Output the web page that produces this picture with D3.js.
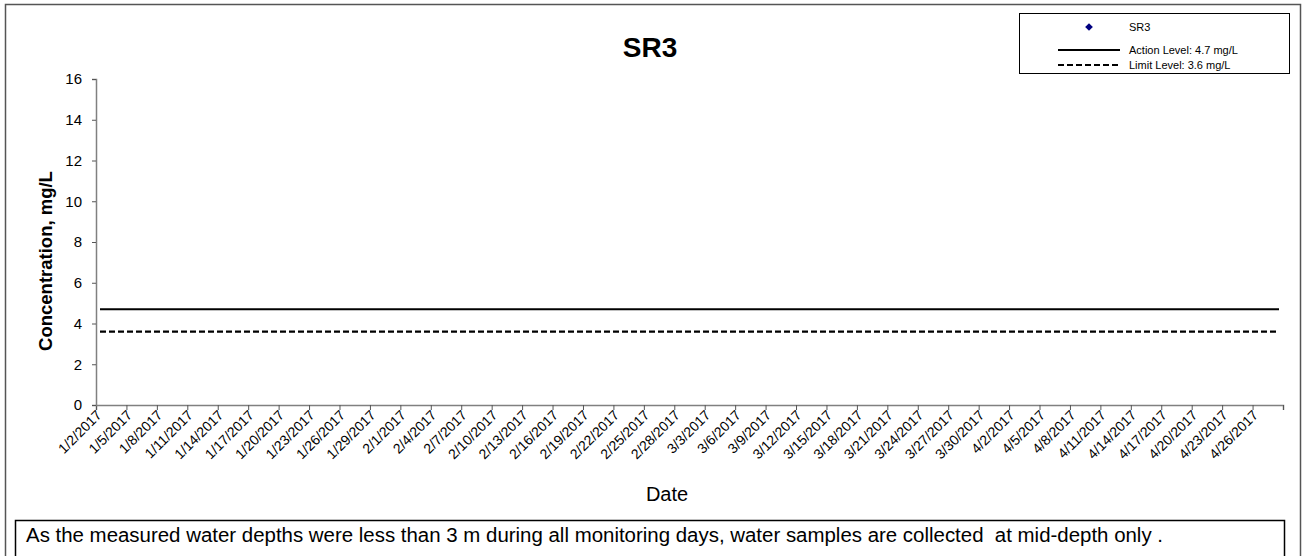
<!DOCTYPE html>
<html>
<head>
<meta charset="utf-8">
<script src="https://cdn.jsdelivr.net/npm/d3@7"></script>
<style>
  body { margin: 0; background: #fff; }
  svg text { font-family: "Liberation Sans", Arial, sans-serif; }
</style>
</head>
<body>
<div id="chart"></div>
<script>
// --- data
var chartTitle = "SR3";
var startDate = "1/2/2017";
var endDate = "4/29/2017";
var tickStepDays = 3;
var seriesNames = ["SR3", "Action Level: 4.7 mg/L", "Limit Level: 3.6 mg/L"];
var sr3Values = [];            // no measurements plotted
var actionLevel = 4.7;
var limitLevel = 3.6;
var yTicks = [0, 2, 4, 6, 8, 10, 12, 14, 16];
var note = "As the measured water depths were less than 3 m during all monitoring days, water samples are collected  at mid-depth only .";

var parse = d3.timeParse("%m/%d/%Y");
var fmt = function(d) { return (d.getMonth() + 1) + "/" + d.getDate() + "/" + d.getFullYear(); };

var W = 1303, H = 556;

var svg = d3.select("#chart").append("svg")
  .attr("width", W).attr("height", H);

// outer frame
svg.append("rect")
  .attr("x", 5.5).attr("y", 4.5)
  .attr("width", 1295).attr("height", 560)
  .attr("fill", "none").attr("stroke", "#555").attr("stroke-width", 1.5);

var x = d3.scaleTime()
  .domain([parse(startDate), parse(endDate)])
  .range([96, 1283]);

var y = d3.scaleLinear()
  .domain([0, 16])
  .range([405, 79]);

var tickDates = d3.timeDay.range(parse(startDate), d3.timeDay.offset(parse(endDate), 1), tickStepDays);

// x axis
var xAxis = d3.axisBottom(x)
  .tickValues(tickDates)
  .tickSize(5)
  .tickFormat(function(d) { return +d === +parse(endDate) ? "" : fmt(d); });

var gx = svg.append("g")
  .attr("transform", "translate(0,405)")
  .call(xAxis);
gx.select(".domain").attr("stroke", "#808080").attr("stroke-width", 1.5);
gx.selectAll(".tick line").attr("stroke", "#555");
gx.selectAll(".tick text")
  .attr("font-size", 14)
  .attr("fill", "#000")
  .attr("text-anchor", "end")
  .attr("x", 0).attr("y", 0).attr("dy", 0)
  .attr("transform", "translate(6,11) rotate(-45)");

// y axis
var yAxis = d3.axisLeft(y).tickValues(yTicks).tickSize(4).tickPadding(10);
var gy = svg.append("g")
  .attr("transform", "translate(96,0)")
  .call(yAxis);
gy.select(".domain").attr("stroke", "#808080").attr("stroke-width", 1.5);
gy.selectAll(".tick line").attr("stroke", "#555");
gy.selectAll(".tick text").attr("font-size", 15).attr("fill", "#000");

// level lines
svg.append("line")
  .attr("x1", 100).attr("x2", 1279)
  .attr("y1", y(actionLevel)).attr("y2", y(actionLevel))
  .attr("stroke", "#000").attr("stroke-width", 2.2);

svg.append("line")
  .attr("x1", 100).attr("x2", 1279)
  .attr("y1", y(limitLevel)).attr("y2", y(limitLevel))
  .attr("stroke", "#000").attr("stroke-width", 2.2)
  .attr("stroke-dasharray", "6,3");

// sr3 points (none)
var diamond = d3.symbol(d3.symbolSquare, 30);
svg.selectAll(".pt")
  .data(sr3Values)
  .enter().append("path")
  .attr("d", diamond)
  .attr("transform", function(d) { return "translate(" + x(parse(d.date)) + "," + y(d.value) + ") rotate(45)"; })
  .attr("fill", "#000080");

// title
svg.append("text")
  .attr("x", 650).attr("y", 57)
  .attr("text-anchor", "middle")
  .attr("font-size", 28).attr("font-weight", "bold")
  .text(chartTitle);

// axis titles
svg.append("text")
  .attr("transform", "translate(52,261) rotate(-90)")
  .attr("text-anchor", "middle")
  .attr("font-size", 18.5).attr("font-weight", "bold")
  .text("Concentration, mg/L");

svg.append("text")
  .attr("x", 667).attr("y", 501)
  .attr("text-anchor", "middle")
  .attr("font-size", 20)
  .text("Date");

// legend
var lg = svg.append("g");
lg.append("rect")
  .attr("x", 1019.5).attr("y", 13.5)
  .attr("width", 270).attr("height", 60)
  .attr("fill", "#fff").attr("stroke", "#000").attr("stroke-width", 1);

var ly = [27, 50, 65];
lg.append("path")
  .attr("d", diamond)
  .attr("transform", "translate(1089," + ly[0] + ") rotate(45)")
  .attr("fill", "#000080");
lg.append("line")
  .attr("x1", 1058).attr("x2", 1120).attr("y1", ly[1]).attr("y2", ly[1])
  .attr("stroke", "#000").attr("stroke-width", 2);
lg.append("line")
  .attr("x1", 1058).attr("x2", 1120).attr("y1", ly[2]).attr("y2", ly[2])
  .attr("stroke", "#000").attr("stroke-width", 2)
  .attr("stroke-dasharray", "6,3");

lg.selectAll(".ltext")
  .data(seriesNames)
  .enter().append("text")
  .attr("x", 1129)
  .attr("y", function(d, i) { return ly[i] + 4; })
  .attr("font-size", 11)
  .text(function(d) { return d; });

// footnote box
svg.append("rect")
  .attr("x", 15.5).attr("y", 520.5)
  .attr("width", 1269).attr("height", 50)
  .attr("fill", "#fff").attr("stroke", "#000").attr("stroke-width", 1.5);
svg.append("text")
  .attr("x", 26).attr("y", 542)
  .attr("font-size", 19.5)
  .attr("textLength", 1137)
  .attr("lengthAdjust", "spacingAndGlyphs")
  .style("white-space", "pre")
  .text(note);
</script>
</body>
</html>
